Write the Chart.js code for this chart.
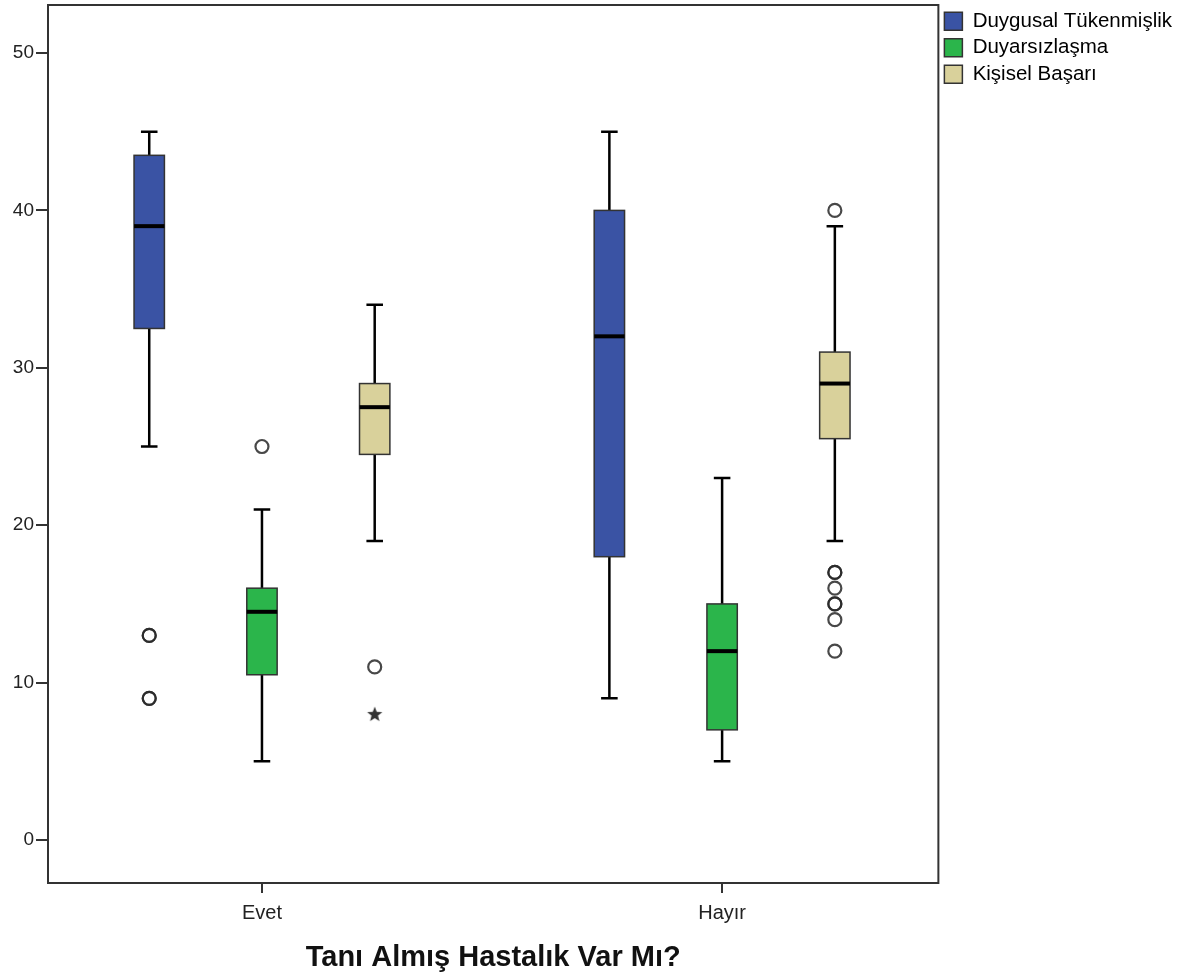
<!DOCTYPE html>
<html>
<head>
<meta charset="utf-8">
<script src="https://cdn.jsdelivr.net/npm/chart.js@4"></script>
<style>
  html, body { margin: 0; padding: 0; background: #fff; }
  #wrap { width: 1194px; height: 978px; }
</style>
</head>
<body>
<div id="wrap"><canvas id="box-chart"></canvas></div>
<script>
const categories = ['Evet', 'Hayır'];
const seriesNames = ['Duygusal Tükenmişlik', 'Duyarsızlaşma', 'Kişisel Başarı'];
const yTicks = [0, 10, 20, 30, 40, 50];

// [alt bıyık, Q1, medyan, Q3, üst bıyık] for Evet, Hayır
const duygusalBox = [[25, 32.5, 39, 43.5, 45], [9, 18, 32, 40, 45]];
const duyarsizBox = [[5, 10.5, 14.5, 16, 21], [5, 7, 12, 15, 23]];
const kisiselBox = [[19, 24.5, 27.5, 29, 34], [19, 25.5, 29, 31, 39]];

// outliers (circles) and extremes (stars), per category
const duygusalOut = [[13, 13, 9, 9], []];
const duyarsizOut = [[25], []];
const kisiselOut = [[11], [40, 17, 17, 16, 15, 15, 14, 12]];
const kisiselExtreme = [[8], []];

const seriesColors = ['#3a53a4', '#2bb54b', '#d9d19b'];
const seriesOffset = [-0.245, 0, 0.245];
const boxHalf = 0.033;
const capHalf = 0.018;

const boxSeries = [duygusalBox, duyarsizBox, kisiselBox];
const outSeries = [duygusalOut, duyarsizOut, kisiselOut];
const extremeSeries = [[[], []], [[], []], kisiselExtreme];

Chart.defaults.font.family = '"Liberation Sans", Arial, sans-serif';

function toPoints(list, s) {
  const pts = [];
  list.forEach((vals, c) => {
    vals.forEach(v => pts.push({ x: c + 1 + seriesOffset[s], y: v }));
  });
  return pts;
}

function makeStar() {
  const cv = document.createElement('canvas');
  cv.width = 18; cv.height = 18;
  const g = cv.getContext('2d');
  g.fillStyle = '#333';
  g.beginPath();
  for (let i = 0; i < 10; i++) {
    const r = i % 2 === 0 ? 8 : 3.4;
    const a = -Math.PI / 2 + i * Math.PI / 5;
    const px = 9 + r * Math.cos(a), py = 9.5 + r * Math.sin(a);
    if (i === 0) g.moveTo(px, py); else g.lineTo(px, py);
  }
  g.closePath();
  g.fill();
  return cv;
}
const starImg = makeStar();

function noEdgePadding(scale) {
  scale.paddingTop = 0;
  scale.paddingBottom = 0;
  scale.paddingLeft = 0;
  scale.paddingRight = 0;
}

const boxPlugin = {
  id: 'boxDraw',
  beforeDatasetsDraw(chart) {
    const { ctx, scales: { x, y } } = chart;
    ctx.save();
    boxSeries.forEach((stats, s) => {
      stats.forEach((st, c) => {
        const [lo, q1, med, q3, hi] = st;
        const xc = c + 1 + seriesOffset[s];
        const cx = x.getPixelForValue(xc);
        const l = x.getPixelForValue(xc - boxHalf);
        const r = x.getPixelForValue(xc + boxHalf);
        const cl = x.getPixelForValue(xc - capHalf);
        const cr = x.getPixelForValue(xc + capHalf);
        const yLo = y.getPixelForValue(lo), yQ1 = y.getPixelForValue(q1);
        const yMed = y.getPixelForValue(med), yQ3 = y.getPixelForValue(q3);
        const yHi = y.getPixelForValue(hi);

        ctx.strokeStyle = '#000';
        ctx.lineWidth = 2.5;
        ctx.beginPath();
        ctx.moveTo(cx, yHi); ctx.lineTo(cx, yQ3);
        ctx.moveTo(cx, yQ1); ctx.lineTo(cx, yLo);
        ctx.moveTo(cl, yHi); ctx.lineTo(cr, yHi);
        ctx.moveTo(cl, yLo); ctx.lineTo(cr, yLo);
        ctx.stroke();

        ctx.fillStyle = seriesColors[s];
        ctx.fillRect(l, yQ3, r - l, yQ1 - yQ3);
        ctx.lineWidth = 1.5;
        ctx.strokeStyle = '#333';
        ctx.strokeRect(l, yQ3, r - l, yQ1 - yQ3);

        ctx.lineWidth = 4;
        ctx.strokeStyle = '#000';
        ctx.beginPath();
        ctx.moveTo(l, yMed); ctx.lineTo(r, yMed);
        ctx.stroke();
      });
    });
    ctx.restore();
  },
  afterDraw(chart) {
    const { ctx, chartArea } = chart;
    ctx.save();
    ctx.lineWidth = 2;
    ctx.strokeStyle = '#333';
    ctx.strokeRect(chartArea.left, chartArea.top, chartArea.width, chartArea.height);
    ctx.restore();
  }
};

const datasets = [];
seriesNames.forEach((name, s) => {
  datasets.push({
    label: name,
    data: toPoints(outSeries[s], s),
    pointStyle: 'circle',
    pointRadius: 6.5,
    pointBorderWidth: 2.2,
    pointBorderColor: 'rgba(40,40,40,0.85)',
    pointBackgroundColor: 'rgba(0,0,0,0)'
  });
  datasets.push({
    label: name + ' (uç)',
    data: toPoints(extremeSeries[s], s),
    pointStyle: starImg,
    pointRadius: 8
  });
});

new Chart(document.getElementById('box-chart'), {
  type: 'scatter',
  data: { datasets: datasets },
  options: {
    responsive: true,
    maintainAspectRatio: false,
    animation: false,
    layout: { autoPadding: false, padding: { top: 5, left: 0, right: 12, bottom: 0 } },
    plugins: {
      tooltip: { enabled: false },
      legend: {
        position: 'right',
        align: 'start',
        onClick: null,
        labels: {
          boxWidth: 18,
          boxHeight: 18,
          padding: 6,
          color: '#111',
          font: { size: 20.5 },
          generateLabels: () => seriesNames.map((name, i) => ({
            text: name,
            fillStyle: seriesColors[i],
            strokeStyle: '#333',
            lineWidth: 1.5,
            hidden: false,
            datasetIndex: i * 2
          }))
        }
      }
    },
    scales: {
      x: {
        type: 'linear',
        min: 0.535,
        max: 2.47,
        afterBuildTicks: scale => { scale.ticks = categories.map((_, i) => ({ value: i + 1 })); },
        afterFit: scale => { scale.height = 95; noEdgePadding(scale); },
        ticks: {
          callback: (value, index) => categories[index],
          font: { size: 20 },
          color: '#222',
          padding: 8,
          maxRotation: 0,
          autoSkip: false
        },
        grid: { display: true, drawOnChartArea: false, drawTicks: true, tickLength: 10, color: '#333', lineWidth: 2 },
        border: { display: true, color: '#333', width: 2 },
        title: {
          display: true,
          text: 'Tanı Almış Hastalık Var Mı?',
          font: { size: 29, weight: 'bold' },
          color: '#111',
          padding: { top: 0, bottom: 3 }
        }
      },
      y: {
        min: -2.73,
        max: 53.05,
        afterBuildTicks: scale => { scale.ticks = yTicks.map(v => ({ value: v })); },
        afterFit: scale => { scale.width = 48; noEdgePadding(scale); },
        ticks: { font: { size: 19 }, color: '#222', padding: 2 },
        grid: { display: true, drawOnChartArea: false, drawTicks: true, tickLength: 12, color: '#333', lineWidth: 2 },
        border: { display: true, color: '#333', width: 2 }
      }
    }
  },
  plugins: [boxPlugin]
});
</script>
</body>
</html>
